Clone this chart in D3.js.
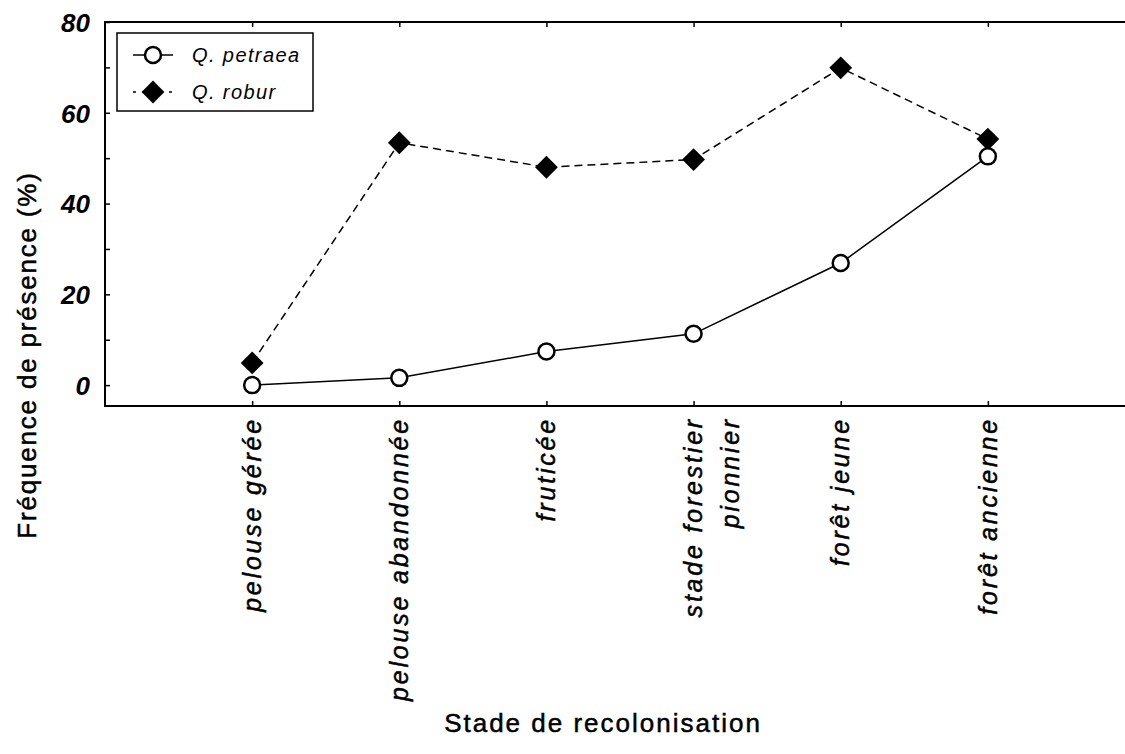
<!DOCTYPE html>
<html>
<head>
<meta charset="utf-8">
<script src="https://cdn.jsdelivr.net/npm/d3@7"></script>
<style>
  html, body { margin: 0; padding: 0; background: #fff; }
  svg { display: block; font-family: "Liberation Sans", Arial, sans-serif; }
</style>
</head>
<body>
<svg id="chart" width="1125" height="754"></svg>
<script>
// ---- data ----
const categories = ["pelouse gérée", "pelouse abandonnée", "fruticée", "stade forestier\npionnier", "forêt jeune", "forêt ancienne"];
const petraea = [0, 1.6, 7.4, 11.3, 26.9, 50.4];
const robur = [4.9, 53.4, 48.0, 49.7, 69.9, 54.2];
const yTickValues = [0, 20, 40, 60, 80];
const yMinorTicks = [10, 30, 50, 70];
const seriesNames = ["Q. petraea", "Q. robur"];
const yTitle = "Fréquence de présence (%)";
const xTitle = "Stade de recolonisation";

// ---- layout ----
const svg = d3.select("#chart");
const mLeft = 105, mRight = 1135, mTop = 22, mBottom = 406;

const x = d3.scalePoint().domain(categories).range([mLeft, mRight]).padding(1);
const y = d3.scaleLinear().domain([-4.6, 80]).range([mBottom, mTop]);

// frame
svg.append("rect")
  .attr("x", mLeft).attr("y", mTop)
  .attr("width", mRight - mLeft).attr("height", mBottom - mTop)
  .attr("fill", "none").attr("stroke", "#000").attr("stroke-width", 2);

// left axis (ticks inside)
const yAxis = d3.axisLeft(y).tickValues(yTickValues.concat(yMinorTicks)).tickSize(-5).tickFormat(d => yTickValues.includes(d) ? d : "").tickPadding(15);
const gy = svg.append("g").attr("transform", `translate(${mLeft},0)`).call(yAxis);
gy.select(".domain").remove();
gy.selectAll(".tick line").attr("stroke", "#000").attr("stroke-width", 1.5);
gy.selectAll(".tick text")
  .attr("font-family", "Liberation Sans, Arial, sans-serif")
  .attr("font-size", 26).attr("font-weight", "bold").attr("font-style", "italic")
  .attr("fill", "#000").attr("dy", "0.36em");

// bottom axis (ticks inside)
const xAxis = d3.axisBottom(x).tickSize(-5).tickFormat("");
const gx = svg.append("g").attr("transform", `translate(0,${mBottom})`).call(xAxis);
gx.select(".domain").remove();
gx.selectAll(".tick line").attr("stroke", "#000").attr("stroke-width", 1.5);

// top axis (ticks inside)
const xAxisTop = d3.axisTop(x).tickSize(-5).tickFormat("");
const gxt = svg.append("g").attr("transform", `translate(0,${mTop})`).call(xAxisTop);
gxt.select(".domain").remove();
gxt.selectAll(".tick line").attr("stroke", "#000").attr("stroke-width", 1.5);

// category labels (rotated)
const labG = svg.append("g");
categories.forEach(c => {
  const lines = c.split("\n");
  const t = labG.append("text")
    .attr("transform", `translate(${x(c)},417) rotate(-90)`)
    .attr("text-anchor", "end")
    .attr("font-size", 25).attr("font-style", "italic")
    .attr("letter-spacing", 2.8)
    .attr("fill", "#000").attr("stroke", "#000").attr("stroke-width", 0.5);
  lines.forEach((ln, i) => {
    t.append("tspan").attr("x", 0).attr("y", 0).attr("dy", (0.35 + i * 1.47) + "em").text(ln);
  });
});

// lines
const line = d3.line().x((d, i) => x(categories[i])).y(d => y(d));
svg.append("path").datum(robur).attr("d", line)
  .attr("fill", "none").attr("stroke", "#000").attr("stroke-width", 1.5).attr("stroke-dasharray", "8,5");
svg.append("path").datum(petraea).attr("d", line)
  .attr("fill", "none").attr("stroke", "#000").attr("stroke-width", 1.5);

// markers
const diamond = d3.symbol().type(d3.symbolSquare).size(260);
svg.append("g").selectAll("path").data(robur).join("path")
  .attr("d", diamond)
  .attr("transform", (d, i) => `translate(${x(categories[i])},${y(d)}) rotate(45)`)
  .attr("fill", "#000");
svg.append("g").selectAll("circle").data(petraea).join("circle")
  .attr("cx", (d, i) => x(categories[i])).attr("cy", d => y(d))
  .attr("r", 8).attr("fill", "#fff").attr("stroke", "#000").attr("stroke-width", 2.5);

// legend
const lg = svg.append("g");
lg.append("rect").attr("x", 117).attr("y", 33).attr("width", 196).attr("height", 78)
  .attr("fill", "#fff").attr("stroke", "#000").attr("stroke-width", 1.5);
const legRows = [55, 92];
lg.append("line").attr("x1", 133).attr("x2", 173).attr("y1", legRows[0]).attr("y2", legRows[0])
  .attr("stroke", "#000").attr("stroke-width", 1.5);
lg.append("circle").attr("cx", 153).attr("cy", legRows[0]).attr("r", 8)
  .attr("fill", "#fff").attr("stroke", "#000").attr("stroke-width", 2.5);
lg.append("line").attr("x1", 133).attr("x2", 173).attr("y1", legRows[1]).attr("y2", legRows[1])
  .attr("stroke", "#000").attr("stroke-width", 1.5).attr("stroke-dasharray", "3,6");
lg.append("path").attr("d", diamond).attr("transform", `translate(153,${legRows[1]}) rotate(45)`).attr("fill", "#000");
seriesNames.forEach((n, i) => {
  lg.append("text").attr("x", 192).attr("y", legRows[i]).attr("dy", "0.36em")
    .attr("font-size", 20).attr("font-style", "italic").attr("letter-spacing", 1.4)
    .attr("fill", "#000").text(n);
});

// axis titles
svg.append("text").attr("x", 603).attr("y", 732).attr("text-anchor", "middle")
  .attr("font-size", 26).attr("letter-spacing", 2).attr("fill", "#000")
  .attr("stroke", "#000").attr("stroke-width", 0.5).text(xTitle);
svg.append("text").attr("transform", "translate(36,355) rotate(-90)").attr("text-anchor", "middle")
  .attr("font-size", 26).attr("letter-spacing", 1.8).attr("fill", "#000")
  .attr("stroke", "#000").attr("stroke-width", 0.5).text(yTitle);
</script>
</body>
</html>
